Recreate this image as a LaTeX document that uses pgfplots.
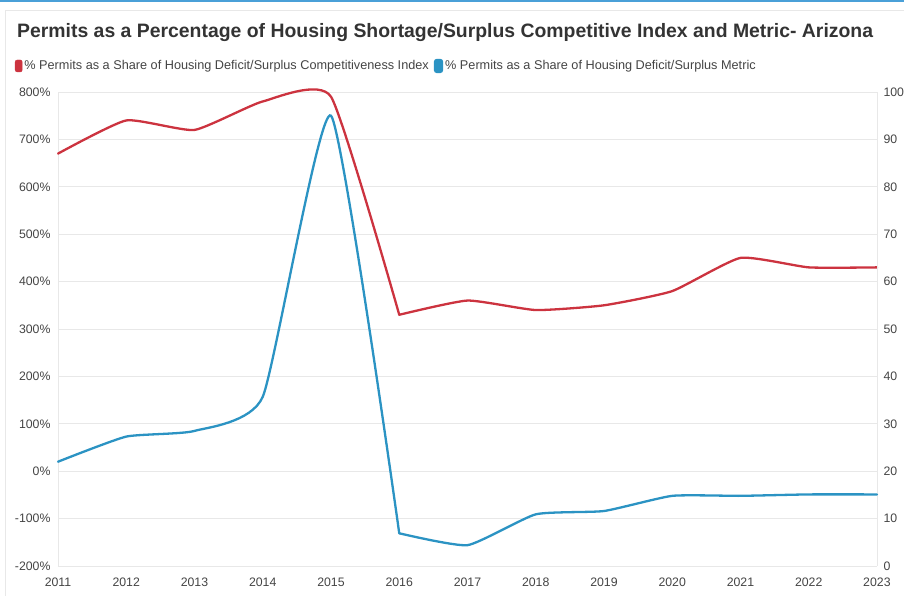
\documentclass[border=0pt]{standalone}
\usepackage{fontspec}
\setmainfont{Liberation Sans}
\usepackage{pgfplots}
\pgfplotsset{compat=1.18}
\definecolor{cred}{RGB}{204,51,63}
\definecolor{cblue}{RGB}{43,147,195}
\definecolor{topblue}{RGB}{74,160,216}
\definecolor{gridc}{RGB}{232,232,232}
\definecolor{txt}{RGB}{51,51,51}
\definecolor{ticktxt}{RGB}{68,68,68}
\pgfplotsset{
  common/.style={
    at={(58pt,30pt)}, anchor=south west, scale only axis,
    width=819pt, height=474pt,
    xmin=2011, xmax=2023,
    axis line style={draw=gridc},
    major tick length=0pt,
    tick label style={font=\fontsize{12.3}{14}\selectfont, text=ticktxt},
    /pgf/number format/assume math mode=true,
    /pgf/number format/1000 sep={},
    clip=false,
  },
  lgimg/.style={legend image code/.code={\fill[rounded corners=2pt] (0pt,-6pt) rectangle (7pt,6pt);}},
  redline/.style={color=cred, line width=2.3pt, smooth, tension=0.3, line cap=round},
  blueline/.style={color=cblue, line width=2.3pt, smooth, tension=0.3, line cap=round},
}
\begin{document}
\begin{tikzpicture}[x=1pt,y=1pt]
\path[use as bounding box] (0,0) rectangle (904,596);
\fill[topblue] (0,593.5) rectangle (904,596);
\draw[gridc, line width=1pt] (5,0) -- (5,585) -- (904,585);
\node[anchor=west, font=\bfseries\fontsize{19.4}{22}\selectfont, text=txt, inner sep=0pt] at (17,563) {Permits as a Percentage of Housing Shortage/Surplus Competitive Index and Metric- Arizona};
\begin{axis}[common,
  ymin=-200, ymax=800,
  ytick={-200,-100,...,800},
  xtick={2011,2012,...,2023},
  yticklabel={\pgfmathprintnumber{\tick}\%},
  yticklabel style={xshift=-4pt},
  xticklabel style={yshift=-8pt},
  ymajorgrids, grid style={draw=gridc, line width=0.8pt},
  axis x line*=bottom, axis y line*=left,
]
\addplot[redline] coordinates {
(2011,670) (2012,740) (2013,720) (2014,780) (2015,790) (2016,330)};
\addplot[redline] coordinates {
(2016,330) (2017,360)
(2018,340) (2019,350) (2020,380) (2021,450) (2022,430) (2023,430)};
\end{axis}
\begin{axis}[common,
  ymin=0, ymax=100,
  ytick={0,10,...,100},
  axis x line=none, axis y line*=right,
  yticklabel style={xshift=3pt},
  legend style={at={(-0.0525,1.0549)}, anchor=west, draw=none, fill=none,
    inner sep=0pt, outer sep=0pt, font=\fontsize{12.7}{14}\selectfont, text=ticktxt,
    /tikz/every even column/.append style={column sep=3pt}},
  legend columns=2, legend cell align=left,
]
\addlegendimage{color=cred, lgimg}
\addlegendentry{\% Permits as a Share of Housing Deficit/Surplus Competitiveness Index}
\addplot[blueline, lgimg] coordinates {
(2011,22.0) (2012,27.3) (2013,28.5) (2014,35.7) (2015,95.0) (2016,6.9)};
\addlegendentry{\% Permits as a Share of Housing Deficit/Surplus Metric}
\addplot[blueline, forget plot] coordinates {
(2016,6.9) (2017,4.4)
(2018,10.9) (2019,11.6) (2020,14.8) (2021,14.8) (2022,15.1) (2023,15.1)};
\end{axis}
\end{tikzpicture}
\end{document}
